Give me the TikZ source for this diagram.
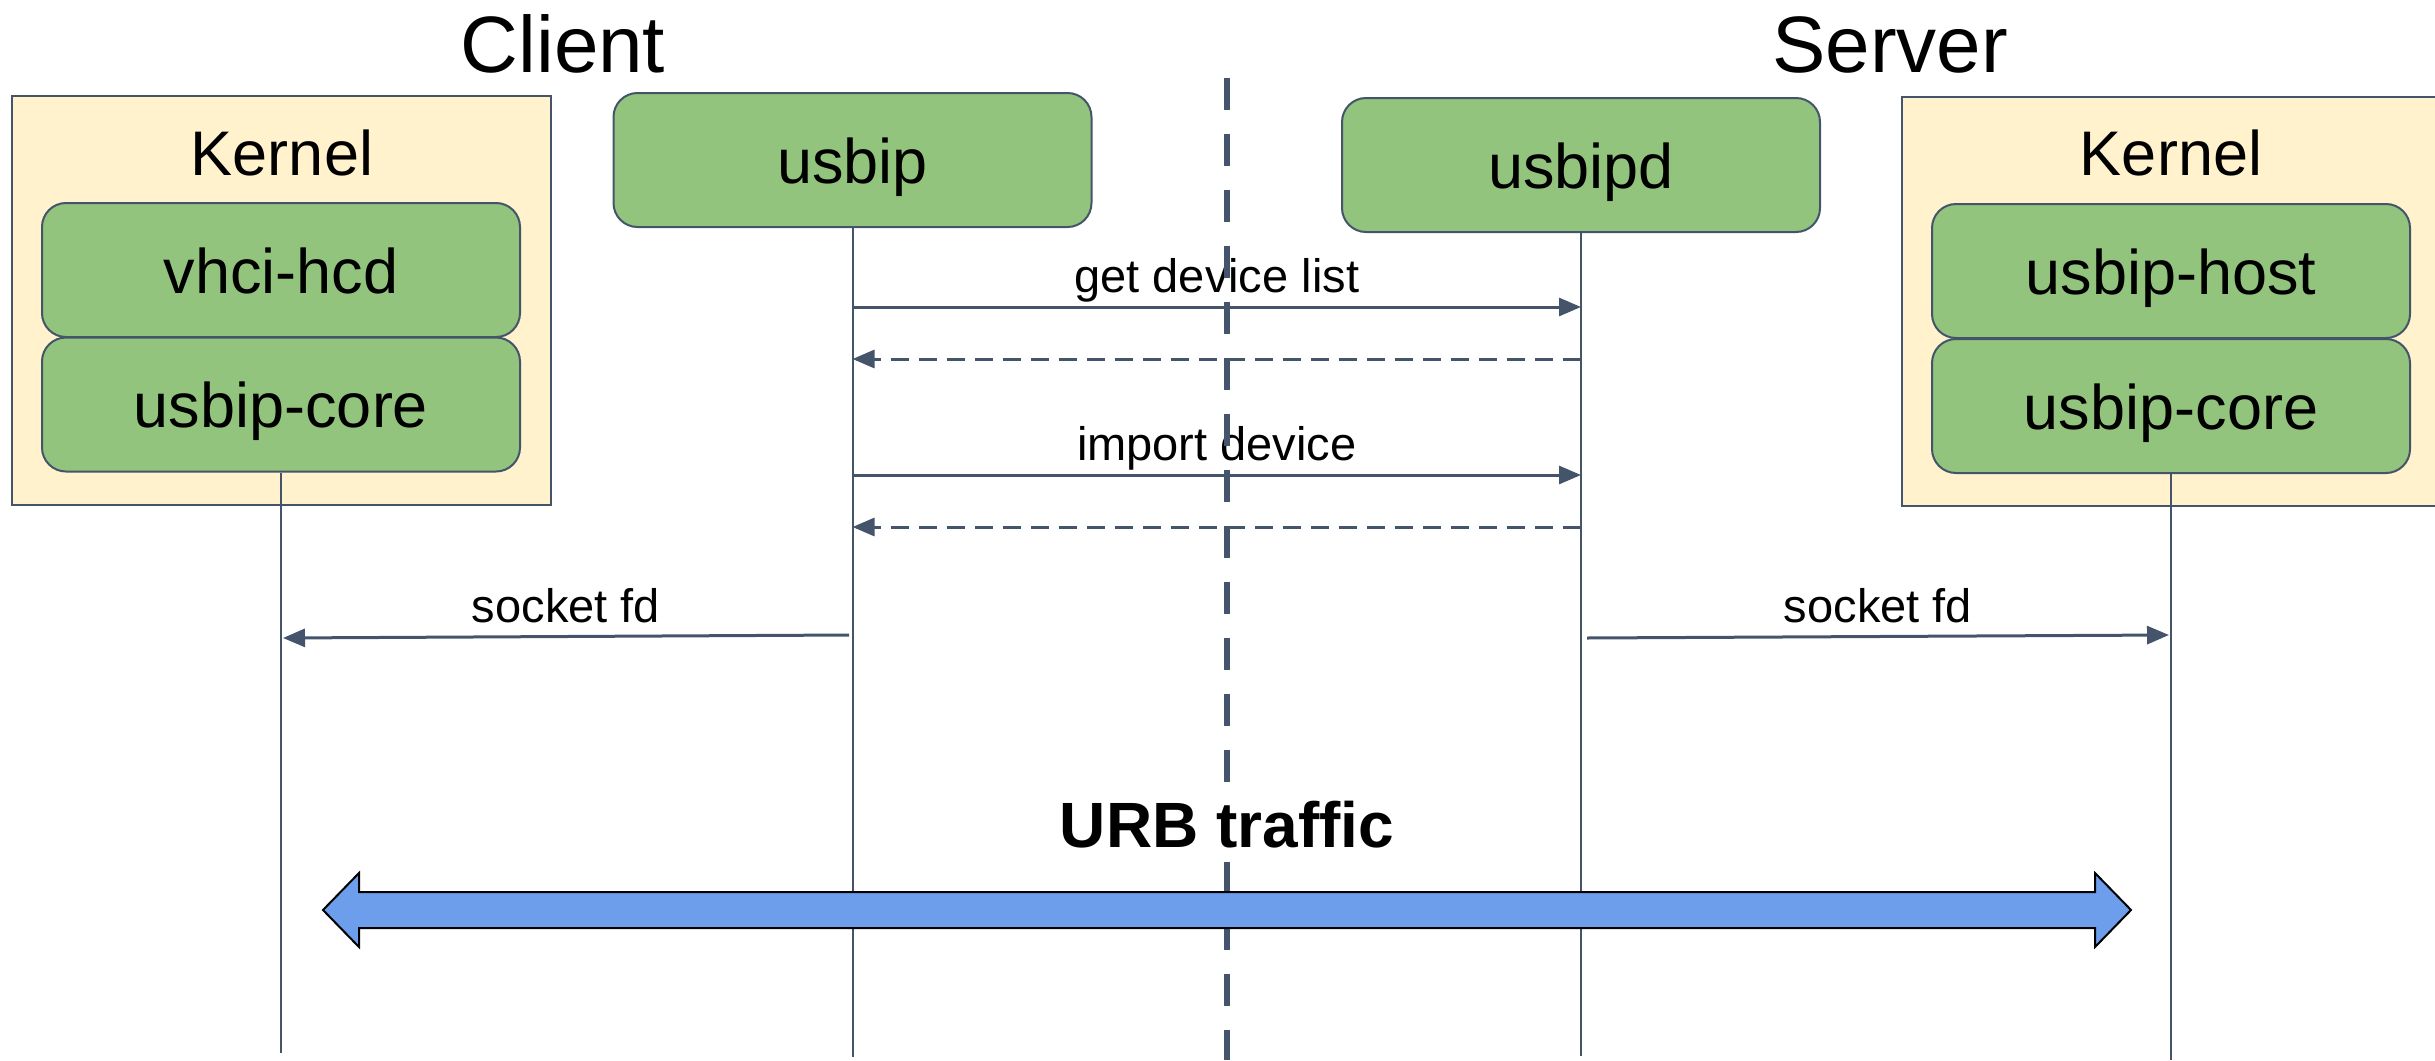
\documentclass[tikz,border=0pt]{standalone}
\usepackage{fontspec}
\setmainfont{Liberation Sans}
\usetikzlibrary{arrows.meta}
\definecolor{slate}{HTML}{44546A}
\definecolor{leaf}{HTML}{93C47D}
\definecolor{cream}{HTML}{FFF2CC}
\definecolor{urbblue}{HTML}{6D9EEB}
\tikzset{
  kernelbox/.style={draw=slate, line width=2pt, fill=cream, minimum width=539pt, minimum height=409pt, inner sep=0pt},
  module/.style={draw=slate, line width=2pt, fill=leaf, rounded corners=24pt, minimum width=478pt, minimum height=134pt, inner sep=0pt, font=\fontsize{63}{70}\selectfont, text height=46pt, text depth=0pt},
  heading/.style={font=\fontsize{80}{90}\selectfont, anchor=base, inner sep=0pt},
  kernellabel/.style={font=\fontsize{63}{70}\selectfont, anchor=base, inner sep=0pt},
  lifeline/.style={draw=slate, line width=2pt},
  call/.style={draw=slate, line width=3pt, -{Triangle[length=22pt,width=18pt]}},
  reply/.style={call, dash pattern=on 18pt off 10pt},
  msglabel/.style={font=\fontsize{47}{52}\selectfont, anchor=base, inner sep=0pt, yshift=15pt},
  divider/.style={draw=slate, line width=5.5pt, dash pattern=on 32pt off 24pt},
}
\begin{document}
\begin{tikzpicture}[x=1pt, y=-1pt]
\useasboundingbox (0,0) rectangle (2435,1060);
\clip (0,0) rectangle (2435,1060);

% kernel containers
\node[kernelbox] (kernelL) at (281.5,300.5) {};
\node[kernelbox] (kernelR) at (2171,301) {};
\node[kernellabel] (kernelLtxt) at (282,175) {Kernel};
\node[kernellabel] (kernelRtxt) at (2171,175) {Kernel};

% kernel modules and user-space programs
\node[module] (vhci)   at (281,270)   {vhci-hcd};
\node[module] (coreL)  at (281,404.5) {usbip-core};
\node[module] (host)   at (2171,271)  {usbip-host};
\node[module] (coreR)  at (2171,406)  {usbip-core};
\node[module] (usbip)  at (852.5,160) {usbip};
\node[module] (usbipd) at (1581,165)  {usbipd};

% lifeline ends
\coordinate (endL)  at (281,1053);
\coordinate (endU)  at (852.5,1057);
\coordinate (endD)  at (1581,1056);
\coordinate (endR)  at (2171,1060);

\draw[lifeline] (coreL.south) -- (endL);
\draw[lifeline] (usbip.south) -- (endU);
\draw[lifeline] (usbipd.south) -- (endD);
\draw[lifeline] (coreR.south) -- (endR);

% message anchors on the lifelines
\coordinate (q1) at (852.5,307);  \coordinate (r1) at (1581,307);
\coordinate (q2) at (852.5,359);  \coordinate (r2) at (1581,359);
\coordinate (q3) at (852.5,475);  \coordinate (r3) at (1581,475);
\coordinate (q4) at (852.5,527);  \coordinate (r4) at (1581,527);
\coordinate (sL1) at (849,635);   \coordinate (sL2) at (283,638);
\coordinate (sR1) at (1587,638);  \coordinate (sR2) at (2169,635);

\draw[call]  (q1) -- node[msglabel] {get device list} (r1);
\draw[reply] (r2) -- (q2);
\draw[call]  (q3) -- node[msglabel] {import device} (r3);
\draw[reply] (r4) -- (q4);
\draw[call]  (sL1) -- node[msglabel, yshift=-1pt] {socket fd} (sL2);
\draw[call]  (sR1) -- node[msglabel, yshift=-1pt] {socket fd} (sR2);

% client / server divider
\coordinate (divTop) at (1227,78);
\coordinate (divBot) at (1227,1060);
\draw[divider] (divTop) -- (divBot);

% URB traffic double arrow
\draw[black, line width=2pt, fill=urbblue, line join=miter]
  (323,910) -- (359,873) -- (359,892) -- (2095,892) -- (2095,873)
  -- (2131,910) -- (2095,947) -- (2095,928) -- (359,928) -- (359,947) -- cycle;
\node[anchor=base, fill=white, inner sep=3pt, font=\fontsize{64}{70}\selectfont\bfseries] (urb) at (1227,847) {URB traffic};

% side headings
\node[heading] (client) at (563,72) {Client};
\node[heading] (server) at (1890,72) {Server};
\end{tikzpicture}
\end{document}
